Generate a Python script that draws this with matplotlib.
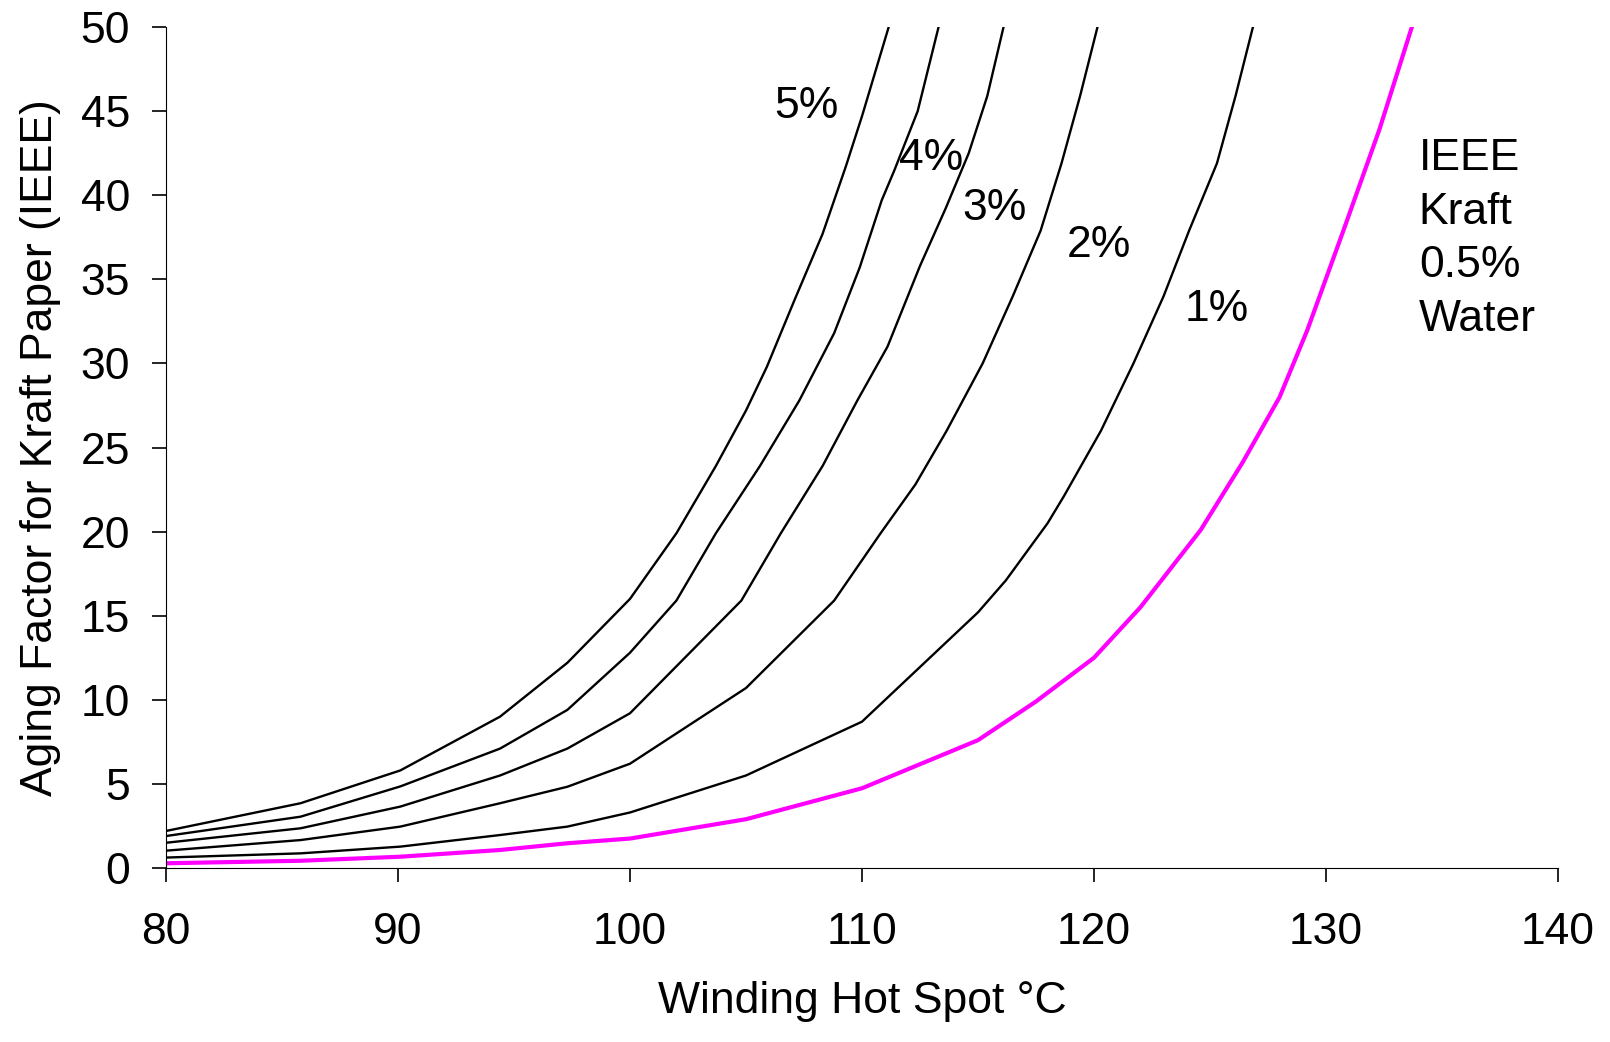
import matplotlib.pyplot as plt

plt.rcParams['font.family'] = ['Liberation Sans', 'DejaVu Sans']

# values (winding hot spot degC -> aging factor)
t_5 = [80, 85.8, 90.1, 94.4, 97.3, 100, 102, 103.7, 105, 105.9, 107.1, 108.3, 109.3, 110, 111.15]
af_5 = [2.2, 3.85, 5.8, 9.0, 12.2, 16.0, 19.9, 23.9, 27.2, 29.8, 33.8, 37.7, 41.7, 44.7, 50]

t_4 = [80, 85.8, 90.1, 94.4, 97.3, 100, 102, 103.7, 105.6, 107.3, 108.8, 109.9, 110.85, 111.4, 112.4, 113.3]
af_4 = [1.9, 3.05, 4.85, 7.1, 9.4, 12.8, 15.9, 19.9, 23.9, 27.8, 31.8, 35.7, 39.7, 41.5, 45.0, 50]

t_3 = [80, 85.8, 90.1, 94.4, 97.3, 100, 104.8, 106.5, 108.3, 109.8, 111.1, 112.5, 113.6, 114.6, 115.4, 116.1]
af_3 = [1.5, 2.36, 3.65, 5.5, 7.1, 9.2, 15.9, 19.9, 23.9, 27.8, 31.0, 35.8, 39.2, 42.5, 45.9, 50]

t_2 = [80, 85.8, 90.1, 94.4, 97.3, 100, 105, 108.8, 110.8, 112.3, 113.65, 115.2, 116.5, 117.7, 118.6, 119.4, 120.15]
af_2 = [1.03, 1.66, 2.46, 3.85, 4.83, 6.2, 10.7, 15.9, 19.9, 22.8, 26.0, 30.0, 34.0, 37.9, 41.9, 45.9, 50]

t_1 = [80, 85.8, 90.1, 94.4, 97.3, 100, 105, 110, 115, 116.2, 118, 118.7, 120.3, 121.7, 123.0, 124.1, 125.3, 126.1, 126.85]
af_1 = [0.62, 0.87, 1.27, 1.96, 2.46, 3.3, 5.5, 8.7, 15.2, 17.1, 20.5, 22.1, 26.0, 30.0, 34.0, 37.9, 41.9, 45.9, 50]

t_ieee = [80, 85.8, 90.1, 94.4, 97.3, 100, 105, 110, 115, 117.5, 120, 122, 124.6, 126.4, 128.0, 129.2, 130.75, 132.3, 133.7]
af_ieee = [0.28, 0.43, 0.67, 1.07, 1.47, 1.75, 2.9, 4.74, 7.6, 9.9, 12.5, 15.5, 20.1, 24.1, 28.0, 32.0, 37.9, 43.9, 50]

labels = ['5%', '4%', '3%', '2%', '1%']
label_x = [107.6, 113.0, 115.7, 120.2, 125.3]
label_y = [45.3, 42.2, 39.2, 37.0, 33.2]

fig = plt.figure(figsize=(16.1, 10.42), dpi=100)
ax = fig.add_axes([0.1031, 0.167, 0.8646, 0.807])

for t, af in [(t_5, af_5), (t_4, af_4), (t_3, af_3), (t_2, af_2), (t_1, af_1)]:
    ax.plot(t, af, color='black', lw=1.7, solid_joinstyle='round')
ax.plot(t_ieee, af_ieee, color='#ff00ff', lw=3.0, solid_joinstyle='round')

for lab, x, y in zip(labels, label_x, label_y):
    ax.text(x, y, lab, fontsize=32, ha='center', va='center')
ax.text(134.0, 37.4, 'IEEE\nKraft\n0.5%\nWater', fontsize=32, ha='left', va='center', linespacing=1.4)

ax.set_xlim(80, 140)
ax.set_ylim(0, 50)
ax.set_xticks(range(80, 141, 10))
ax.set_yticks(range(0, 51, 5))
for s in ['top', 'right']:
    ax.spines[s].set_visible(False)
ax.tick_params(axis='both', direction='out', length=10, width=1.2, labelsize=32)
ax.tick_params(axis='y', pad=16)
ax.tick_params(axis='x', pad=22)
ax.set_xlabel('Winding Hot Spot °C', fontsize=32, labelpad=20)
ax.set_ylabel('Aging Factor for Kraft Paper (IEEE)', fontsize=32, labelpad=14)

fig.savefig('out.png', dpi=100)
